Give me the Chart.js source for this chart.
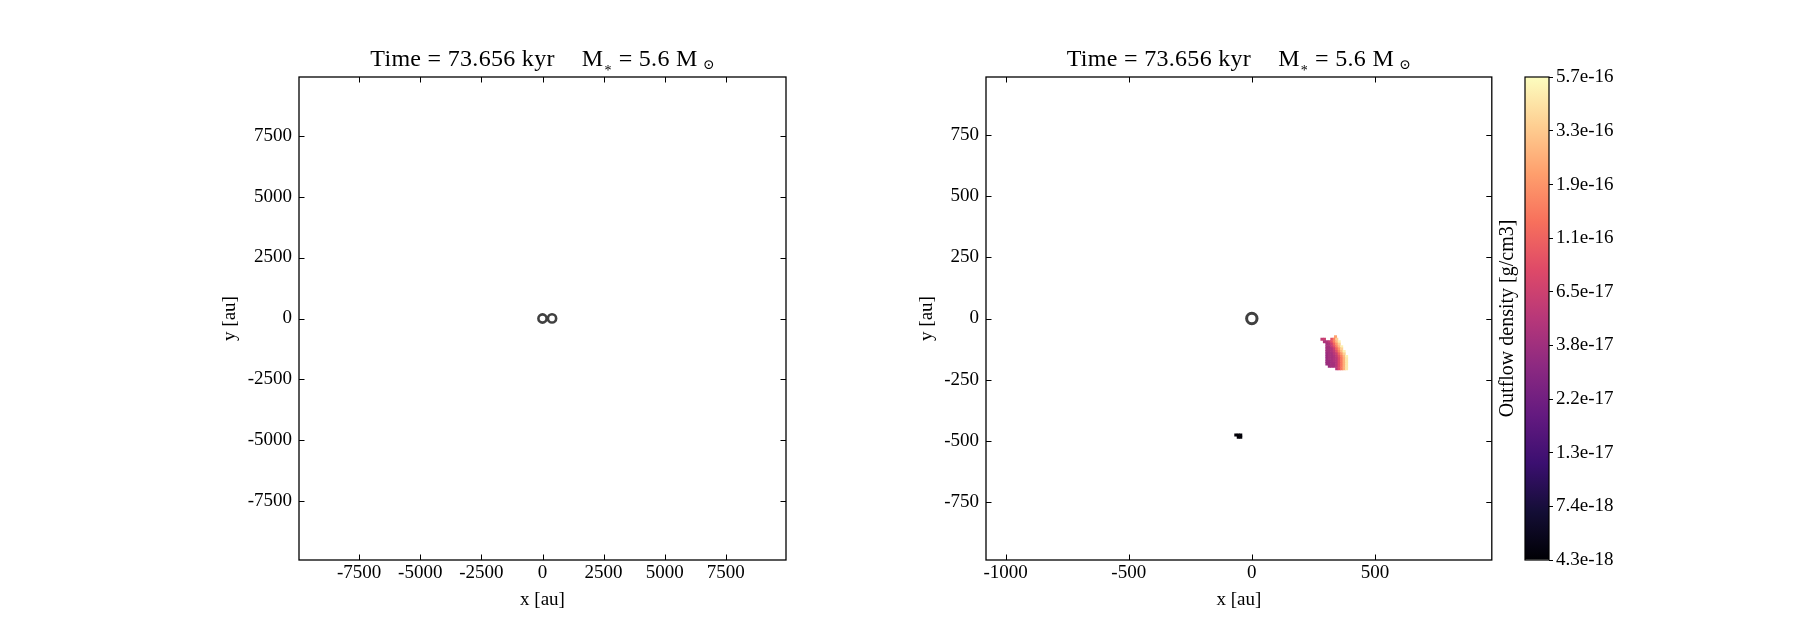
<!DOCTYPE html>
<html>
<head>
<meta charset="utf-8">
<title>Outflow density</title>
<script src="https://cdn.jsdelivr.net/npm/chart.js@4.4.0/dist/chart.umd.min.js"></script>
<style>
  body { margin: 0; background: #fff; }
  #wrap { position: relative; width: 1800px; height: 630px; background: #fff; }
  canvas { position: absolute; top: 0; }
</style>
</head>
<body>
<div id="wrap">
  <canvas id="leftPanel" width="880" height="630" style="left:0px"></canvas>
  <canvas id="rightPanel" width="620" height="630" style="left:880px"></canvas>
  <canvas id="colorBar" width="310" height="630" style="left:1490px"></canvas>
</div>
<script>
const timeKyr = "73.656";
const starMass = "5.6";

// sink particles [au]
const sinkXLeft = [0, 390];
const sinkYLeft = [0, 5];
const sinkXRight = [0];
const sinkYRight = [0];

const xTicksLeft = [-7500, -5000, -2500, 0, 2500, 5000, 7500];
const yTicksLeft = [-7500, -5000, -2500, 0, 2500, 5000, 7500];
const xTicksRight = [-1000, -500, 0, 500];
const yTicksRight = [-750, -500, -250, 0, 250, 500, 750];

// outflow cells on a 10 au grid: row centre y, first cell centre x, log10 density [g/cm3]
const cellAu = 10;
const rowY = [-75, -85, -95, -105, -115, -125, -135, -145, -155, -165, -175, -185, -195, -205, -475, -484];
const rowX0 = [340, 285, 295, 305, 305, 305, 305, 305, 305, 305, 305, 305, 315, 345, -65, -55];
const rowLogRho = [
  [-15.65],
  [-16.25, -16.2, null, null, -16.05, -15.8, -15.45],
  [-16.35, -16.35, -16.25, -16.05, -15.8, -15.55, -15.3],
  [-16.4, -16.35, -16.2, -15.95, -15.7, -15.45],
  [-16.4, -16.4, -16.25, -16.05, -15.8, -15.55, -15.3],
  [-16.4, -16.4, -16.35, -16.2, -15.95, -15.7, -15.45],
  [-16.4, -16.4, -16.35, -16.25, -16.05, -15.8, -15.55, -15.3],
  [-16.45, -16.4, -16.4, -16.3, -16.2, -15.95, -15.7, -15.45],
  [-16.45, -16.4, -16.4, -16.35, -16.25, -16.05, -15.8, -15.55, -15.3],
  [-16.45, -16.4, -16.4, -16.35, -16.3, -16.1, -15.85, -15.6, -15.35],
  [-16.45, -16.45, -16.4, -16.35, -16.3, -16.1, -15.85, -15.6, -15.35],
  [-16.45, -16.45, -16.4, -16.4, -16.3, -16.1, -15.85, -15.6, -15.35],
  [-16.45, -16.4, -16.4, -16.3, -16.1, -15.85, -15.6, -15.35],
  [-16.3, -16.1, -15.85, -15.6, -15.35],
  [-17.35, -17.35, -17.35],
  [-17.35, -17.35]
];

// colorbar ticks [g/cm3]
const cbarTicks = [4.30e-18, 7.40e-18, 1.27e-17, 2.19e-17, 3.77e-17, 6.49e-17, 1.117e-16, 1.92e-16, 3.31e-16, 5.70e-16];

// magma colormap stops
const magma = ['#000004', '#140e36', '#3b0f70', '#641a80', '#8c2981', '#b73779',
               '#de4968', '#f7705c', '#fe9f6d', '#fecf92', '#fcfdbf'];

const cbarMin = cbarTicks[0];
const cbarMax = cbarTicks[cbarTicks.length - 1];
const logMin = Math.log10(cbarMin);
const logMax = Math.log10(cbarMax);

function hexRgb(h) {
  return [parseInt(h.slice(1, 3), 16), parseInt(h.slice(3, 5), 16), parseInt(h.slice(5, 7), 16)];
}

function magmaColor(logRho) {
  let f = (logRho - logMin) / (logMax - logMin);
  f = Math.min(1, Math.max(0, f)) * (magma.length - 1);
  const i = Math.min(Math.floor(f), magma.length - 2);
  const t = f - i;
  const a = hexRgb(magma[i]), b = hexRgb(magma[i + 1]);
  const c = a.map((v, k) => Math.round(v + (b[k] - v) * t));
  return `rgb(${c[0]},${c[1]},${c[2]})`;
}

const cells = [];
rowY.forEach((y, i) => {
  rowLogRho[i].forEach((v, j) => {
    if (v !== null) cells.push({ x: rowX0[i] + j * cellAu, y: y, v: v });
  });
});

const serif = '"Liberation Serif", "DejaVu Serif", serif';
const tickFont = { family: serif, size: 19 };
const labelFont = { family: serif, size: 19 };
const cbarLabelFont = { family: serif, size: 20 };
const titleBig = '24px ' + serif;
const titleSmall = '14px ' + serif;

// frame with inward ticks on all four sides
const frameTicks = {
  id: 'frameTicks',
  afterDraw(chart) {
    const { ctx, chartArea: a, scales: { x, y } } = chart;
    const len = 5.5;
    ctx.save();
    ctx.strokeStyle = '#000';
    ctx.lineWidth = 1;
    ctx.beginPath();
    x.ticks.forEach(t => {
      const p = Math.round(x.getPixelForValue(t.value)) + 0.5;
      ctx.moveTo(p, a.bottom); ctx.lineTo(p, a.bottom - len);
      ctx.moveTo(p, a.top); ctx.lineTo(p, a.top + len);
    });
    y.ticks.forEach(t => {
      const p = Math.round(y.getPixelForValue(t.value)) + 0.5;
      ctx.moveTo(a.left, p); ctx.lineTo(a.left + len, p);
      ctx.moveTo(a.right, p); ctx.lineTo(a.right - len, p);
    });
    ctx.stroke();
    ctx.lineWidth = 1.3;
    ctx.strokeRect(a.left, a.top, a.right - a.left, a.bottom - a.top);
    ctx.restore();
  }
};

// "Time = ... kyr   M* = ... Msun" with subscripts
const panelTitle = {
  id: 'panelTitle',
  afterDraw(chart) {
    const { ctx, chartArea: a } = chart;
    const base = 66;
    const parts = [
      { text: `Time = ${timeKyr} kyr`, font: titleBig, dy: 0, after: 27 },
      { text: 'M', font: titleBig, dy: 0, after: 1 },
      { text: '*', font: titleSmall, dy: 9, after: 7 },
      { text: `= ${starMass} M`, font: titleBig, dy: 0, after: 5 },
      { text: '\u2299', font: titleSmall, dy: 3, after: 0 }
    ];
    ctx.save();
    ctx.fillStyle = '#000';
    ctx.textAlign = 'left';
    ctx.textBaseline = 'alphabetic';
    ctx.letterSpacing = '0.3px';
    let total = 0;
    parts.forEach(p => {
      ctx.font = p.font;
      p.w = ctx.measureText(p.text).width;
      total += p.w + p.after;
    });
    let x = (a.left + a.right) / 2 - total / 2;
    parts.forEach(p => {
      ctx.font = p.font;
      ctx.fillText(p.text, x, base + p.dy);
      x += p.w + p.after;
    });
    ctx.restore();
  }
};

function axis(name, min, max, ticks, size, horizontal) {
  return {
    type: 'linear',
    min: min,
    max: max,
    afterBuildTicks: s => { s.ticks = ticks.map(v => ({ value: v })); },
    afterFit: s => { if (horizontal) s.height = size; else s.width = size; },
    grid: { display: false, drawTicks: false },
    border: { display: false },
    ticks: { color: '#000', font: tickFont, padding: horizontal ? 2 : 7, callback: v => String(v) },
    title: { display: true, text: name + ' [au]', color: '#000', font: labelFont, padding: 0 }
  };
}

function cellRadius(chart) {
  const x = chart.scales.x;
  const side = Math.abs(x.getPixelForValue(cellAu) - x.getPixelForValue(0));
  return (side + 0.6) / Math.SQRT2;
}

function panel(id, datasets, padding, yWidth, xr, yr, xt, yt) {
  return new Chart(document.getElementById(id), {
    type: 'scatter',
    data: { datasets: datasets },
    options: {
      responsive: false,
      animation: false,
      devicePixelRatio: 1,
      events: [],
      layout: { padding: padding },
      plugins: { legend: { display: false }, tooltip: { enabled: false } },
      scales: {
        x: axis('x', xr[0], xr[1], xt, 51, true),
        y: axis('y', yr[0], yr[1], yt, yWidth, false)
      }
    },
    plugins: [frameTicks, panelTitle]
  });
}

function sinkSet(xs, ys, r, w) {
  return {
    data: xs.map((x, i) => ({ x: x, y: ys[i] })),
    pointStyle: 'circle',
    pointRadius: r,
    borderWidth: w,
    borderColor: '#404040',
    backgroundColor: 'rgba(0,0,0,0)'
  };
}

panel('leftPanel',
  [sinkSet(sinkXLeft, sinkYLeft, 4.1, 2.6)],
  { left: 219, right: 94, top: 77, bottom: 19 }, 80,
  [-9960, 9960], [-9900, 9900], xTicksLeft, yTicksLeft);

panel('rightPanel',
  [
    sinkSet(sinkXRight, sinkYRight, 5.2, 3),
    {
      data: cells,
      pointStyle: 'rect',
      pointRadius: ctx => cellRadius(ctx.chart),
      borderWidth: 0,
      backgroundColor: ctx => (ctx.raw ? magmaColor(ctx.raw.v) : '#000')
    }
  ],
  { left: 36, right: 7.5, top: 77, bottom: 19 }, 70,
  [-1080, 975], [-985, 985], xTicksRight, yTicksRight);

const cbarFrame = {
  id: 'cbarFrame',
  afterDraw(chart) {
    const { ctx, chartArea: a } = chart;
    ctx.save();
    ctx.strokeStyle = '#000';
    ctx.lineWidth = 1.2;
    ctx.strokeRect(a.left, a.top, a.right - a.left, a.bottom - a.top);
    ctx.restore();
  }
};

new Chart(document.getElementById('colorBar'), {
  type: 'bar',
  data: {
    labels: [''],
    datasets: [{
      // bar runs past both ends and is clipped to the colorbar area
      data: [[cbarMin / 2, cbarMax * 2]],
      barPercentage: 1,
      categoryPercentage: 1,
      borderWidth: 0,
      borderSkipped: false,
      backgroundColor: ctx => {
        const { ctx: c, chartArea } = ctx.chart;
        if (!chartArea) return '#000';
        const g = c.createLinearGradient(0, chartArea.bottom, 0, chartArea.top);
        magma.forEach((col, i) => g.addColorStop(i / (magma.length - 1), col));
        return g;
      }
    }]
  },
  options: {
    responsive: false,
    animation: false,
    devicePixelRatio: 1,
    events: [],
    layout: { padding: { left: 6, right: 151, top: 77, bottom: 70 } },
    plugins: { legend: { display: false }, tooltip: { enabled: false } },
    scales: {
      x: { type: 'category', display: false },
      yl: {
        type: 'linear',
        position: 'left',
        afterFit: s => { s.width = 29; },
        ticks: { display: false },
        grid: { display: false, drawTicks: false },
        border: { display: false },
        title: { display: true, text: 'Outflow density [g/cm3]', color: '#000', font: cbarLabelFont, padding: 0 }
      },
      y: {
        type: 'logarithmic',
        position: 'right',
        min: cbarMin,
        max: cbarMax,
        afterBuildTicks: s => { s.ticks = cbarTicks.map(v => ({ value: v })); },
        afterFit: s => { s.width = 100; },
        grid: { display: true, drawOnChartArea: false, drawTicks: true, tickLength: 4, color: '#000', lineWidth: 1 },
        border: { display: false },
        ticks: { color: '#000', font: tickFont, padding: 3, callback: v => v.toExponential(1) }
      }
    }
  },
  plugins: [cbarFrame]
});
</script>
</body>
</html>
